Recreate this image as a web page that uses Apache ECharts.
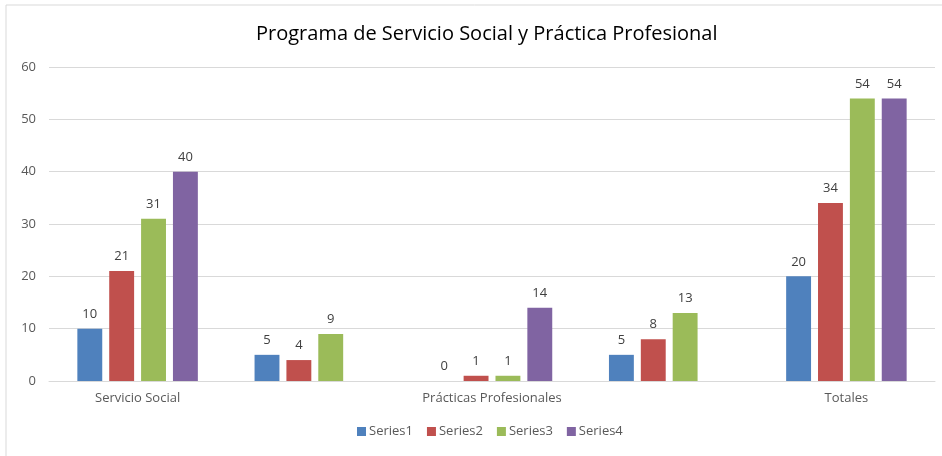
<!DOCTYPE html>
<html>
<head>
<meta charset="utf-8">
<script src="https://cdn.jsdelivr.net/npm/echarts@6/dist/echarts.min.js"></script>
<style>
	html, body { margin: 0; padding: 0; background: #fff; }
	#chart { width: 942px; height: 456px; }
</style>
</head>
<body>
<div id="chart"></div>
<script>
// datos
var categories = ["Servicio Social", "", "Prácticas Profesionales", "", "Totales"];
var series1 = [10, 5, 0, 5, 20];
var series2 = [21, 4, 1, 8, 34];
var series3 = [31, 9, 1, 13, 54];
var series4 = [40, null, 14, null, 54];
var seriesNames = ["Series1", "Series2", "Series3", "Series4"];
var colors = ["#4F81BD", "#C0504D", "#9BBB59", "#8064A2"];
var yTicks = [0, 10, 20, 30, 40, 50, 60];

var font = "'Open Sans', 'Noto Sans', sans-serif";
var myChart = echarts.init(document.getElementById("chart"));

function barSerie(name, data, color) {
	return {
		name: name,
		type: 'bar',
		data: data,
		barGap: '28%',
		barCategoryGap: '32%',
		itemStyle: { color: color },
		label: {
			show: true,
			position: 'top',
			distance: 8,
			color: '#404040',
			fontFamily: font,
			fontSize: 13
		}
	};
}

var option = {
	animation: false,
	color: colors,
	graphic: [{
		type: 'rect',
		shape: { x: 6, y: 5, width: 1000, height: 500 },
		style: { fill: 'none', stroke: '#d9d9d9', lineWidth: 1 },
		silent: true
	}],
	title: {
		text: 'Programa de Servicio Social y Práctica Profesional',
		left: 251,
		top: 19,
		textStyle: { fontFamily: font, fontSize: 20, fontWeight: 'normal', color: '#000' }
	},
	legend: {
		data: seriesNames,
		bottom: 13,
		left: 352,
		itemWidth: 9,
		itemHeight: 9,
		itemGap: 14,
		icon: 'rect',
		textStyle: { fontFamily: font, fontSize: 13, color: '#595959', padding: [0, 0, 0, -2] }
	},
	grid: { left: 49, right: 7, top: 67, bottom: 75, containLabel: false },
	xAxis: {
		type: 'category',
		data: categories,
		axisLine: { lineStyle: { color: '#d9d9d9' } },
		axisTick: { show: false },
		axisLabel: { interval: 0, color: '#595959', fontFamily: font, fontSize: 13, margin: 11 }
	},
	yAxis: {
		type: 'value',
		min: yTicks[0],
		max: yTicks[yTicks.length - 1],
		interval: 10,
		axisLine: { show: false },
		axisTick: { show: false },
		splitLine: { lineStyle: { color: '#d9d9d9' } },
		axisLabel: { color: '#595959', fontFamily: font, fontSize: 13, margin: 13 }
	},
	series: [
		barSerie(seriesNames[0], series1, colors[0]),
		barSerie(seriesNames[1], series2, colors[1]),
		barSerie(seriesNames[2], series3, colors[2]),
		barSerie(seriesNames[3], series4, colors[3])
	]
};
myChart.setOption(option);
</script>
</body>
</html>
